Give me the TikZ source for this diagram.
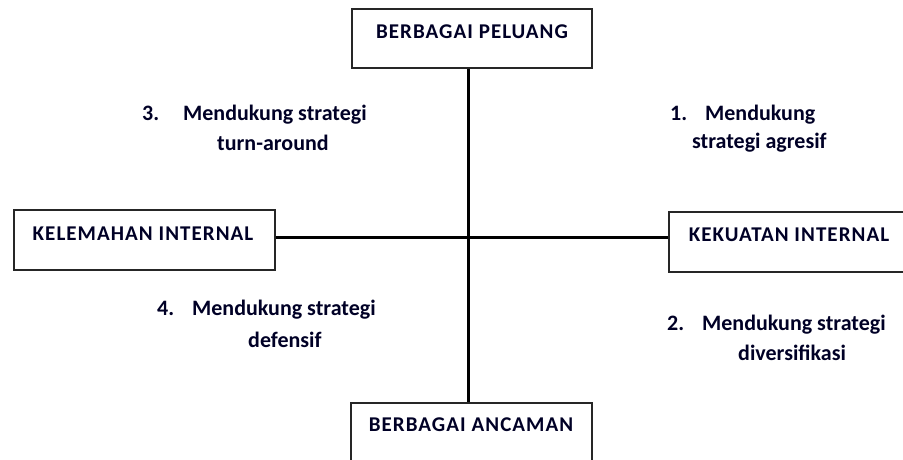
\documentclass[tikz,border=0pt]{standalone}
\usepackage{fontspec}
\setmainfont{Carlito}
\newfontfamily\boxfont[LetterSpace=5]{Carlito}
\begin{document}
\begin{tikzpicture}[x=1pt,y=-1pt,
  box/.style={draw=black!85,line width=1.4pt,rectangle,inner sep=0pt},
  lbl/.style={font=\boxfont\bfseries\fontsize{21}{25}\selectfont,text=black!85!blue,inner sep=0pt},
  qt/.style={font=\bfseries\fontsize{22}{26}\selectfont,text=black!85!blue,inner sep=0pt,anchor=west},
  axis/.style={line width=3pt,black}]
\clip (0,0) rectangle (903,460);
\fill[white] (0,0) rectangle (903,460);
% boxes
\node[box,minimum width=240pt,minimum height=59pt] (top) at (472,38.5) {};
\node[box,minimum width=261pt,minimum height=60pt] (left) at (144.5,240) {};
\node[box,minimum width=250pt,minimum height=60pt] (right) at (794,242) {};
\node[box,minimum width=241pt,minimum height=70pt] (bottom) at (471.5,438) {};
% box texts
\node[lbl] (ttop) at (472,32) {BERBAGAI PELUANG};
\node[lbl] (tleft) at (143,234) {KELEMAHAN INTERNAL};
\node[lbl] (tright) at (789,235) {KEKUATAN INTERNAL};
\node[lbl] (tbottom) at (471,425) {BERBAGAI ANCAMAN};
% axes
\draw[axis] (top.south -| 468,0) -- (bottom.north -| 468,0);
\draw[axis] (left.east |- 0,237) -- (right.west |- 0,237);
% quadrant texts
\node[qt] (q3a) at (142,115) {\makebox[41pt][l]{3.}Mendukung strategi};
\node[qt] (q3b) at (217,143) {turn-around};
\node[qt] (q1a) at (670,115) {\makebox[35pt][l]{1.}Mendukung};
\node[qt] (q1b) at (692,143) {strategi agresif};
\node[qt] (q4a) at (157,310) {\makebox[35pt][l]{4.}Mendukung strategi};
\node[qt] (q4b) at (248,340) {defensif};
\node[qt] (q2a) at (667,325) {\makebox[35pt][l]{2.}Mendukung strategi};
\node[qt] (q2b) at (738,353) {diversifikasi};
\end{tikzpicture}
\end{document}
